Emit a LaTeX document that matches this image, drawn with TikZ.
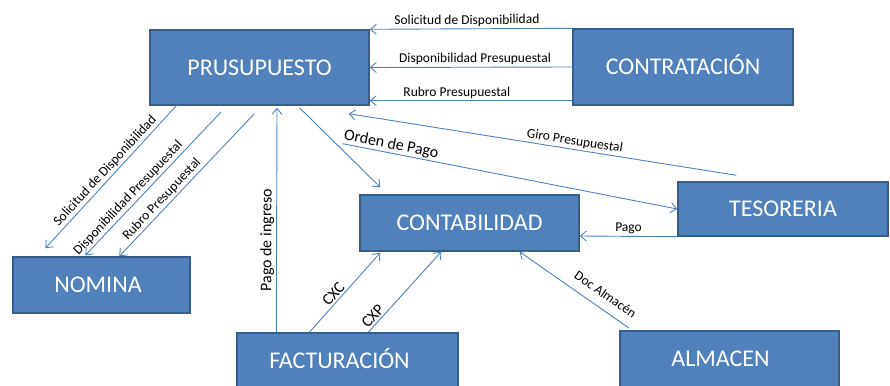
\documentclass[tikz,border=0pt]{standalone}
\usepackage{fontspec}
\setmainfont{Carlito}
\usetikzlibrary{arrows.meta}
\definecolor{boxblue}{RGB}{79,129,189}
\definecolor{boxedge}{RGB}{56,93,138}

\begin{document}
\begin{tikzpicture}[x=1pt, y=-1pt,
    block/.style={draw=boxedge, line width=1.4pt, fill=boxblue, text=white,
      font=\fontsize{24}{28}\selectfont, inner sep=0pt,
      text height=15.5pt, text depth=0pt},
    flow/.style={draw=boxblue, line width=0.9pt,
      -{Straight Barb[length=6pt,width=10pt]}},
    lbl/.style={font=\fontsize{13.5}{16}\selectfont, sloped, above, inner sep=2pt},
    biglbl/.style={lbl, font=\fontsize{16}{19}\selectfont}]
  \clip (0,0) rectangle (890,385);

  % Blocks
  \node[block, minimum width=219pt, minimum height=75pt] (pres) at (259.5,67.5) {PRUSUPUESTO};
  \node[block, minimum width=220pt, minimum height=76pt] (contr) at (683,67) {CONTRATACIÓN};
  \node[block, minimum width=219pt, minimum height=56pt] (conta) at (469.5,223) {CONTABILIDAD};
  \node[block, minimum width=210pt, minimum height=54pt] (teso) at (783,209) {TESORERIA};
  \node[block, minimum width=177pt, minimum height=56pt] (nom) at (101.5,285) {NOMINA\kern7pt};
  \node[block, minimum width=221pt, minimum height=56pt] (fact) at (347.5,361) {FACTURACIÓN\kern16pt};
  \node[block, minimum width=219pt, minimum height=56pt] (alma) at (729.5,359) {ALMACEN\kern18pt};

  % Contratacion -> Presupuesto
  \draw[flow] (contr.north west) -- node[lbl, pos=0.52] {Solicitud de Disponibilidad} (pres.north east);
  \draw[flow] (contr.west) -- node[lbl, pos=0.48] {Disponibilidad Presupuestal} (pres.east);
  \draw[flow] ([yshift=5pt]contr.south west) -- node[lbl, pos=0.57] {Rubro Presupuestal} ([yshift=5pt]pres.south east);

  % Presupuesto -> Nomina
  \draw[flow] ([shift={(28pt,1pt)}]pres.south west) -- node[lbl, pos=0.5] {Solicitud de Disponibilidad} ([shift={(33pt,8pt)}]nom.north west);
  \draw[flow] ([shift={(72pt,-6pt)}]pres.south west) -- node[lbl, pos=0.64] {Disponibilidad Presupuestal} ([shift={(73pt,1pt)}]nom.north west);
  \draw[flow] ([shift={(105pt,-8pt)}]pres.south west) -- node[lbl, pos=0.64] {Rubro Presupuestal} ([shift={(107pt,0pt)}]nom.north west);

  % Tesoreria <-> Presupuesto
  \draw[flow] ([shift={(59pt,6pt)}]teso.north west) -- node[lbl, pos=0.42] {Giro Presupuestal} ([shift={(-21pt,-8pt)}]pres.south east);
  \draw[flow] ([shift={(-27pt,-38pt)}]pres.south east) -- node[biglbl, pos=0.14, inner sep=1pt] {Orden de Pago} (teso.west);

  % Presupuesto -> Contabilidad
  \draw[flow] ([shift={(40pt,-2pt)}]pres.south) -- ([shift={(21pt,7pt)}]conta.north west);

  % Facturacion
  \draw[flow] ([xshift=40pt]fact.north west) -- node[biglbl, pos=0.41] {Pago de ingreso} ([shift={(17.5pt,-2pt)}]pres.south);
  \draw[flow] ([xshift=73pt]fact.north west) -- node[biglbl, pos=0.42] {CXC} ([shift={(21pt,-1pt)}]conta.south west);
  \draw[flow] ([xshift=132pt]fact.north west) -- node[biglbl, pos=0.14] {CXP} ([xshift=82pt]conta.south west);

  % Tesoreria, Almacen -> Contabilidad
  \draw[flow] (teso.south west) -- node[lbl, pos=0.5] {Pago} ([yshift=-13pt]conta.east);
  \draw[flow] ([shift={(10pt,2pt)}]alma.north west) -- node[lbl, pos=0.29, inner sep=9pt] {Doc Almacén} ([xshift=50pt]conta.south);
\end{tikzpicture}
\end{document}
